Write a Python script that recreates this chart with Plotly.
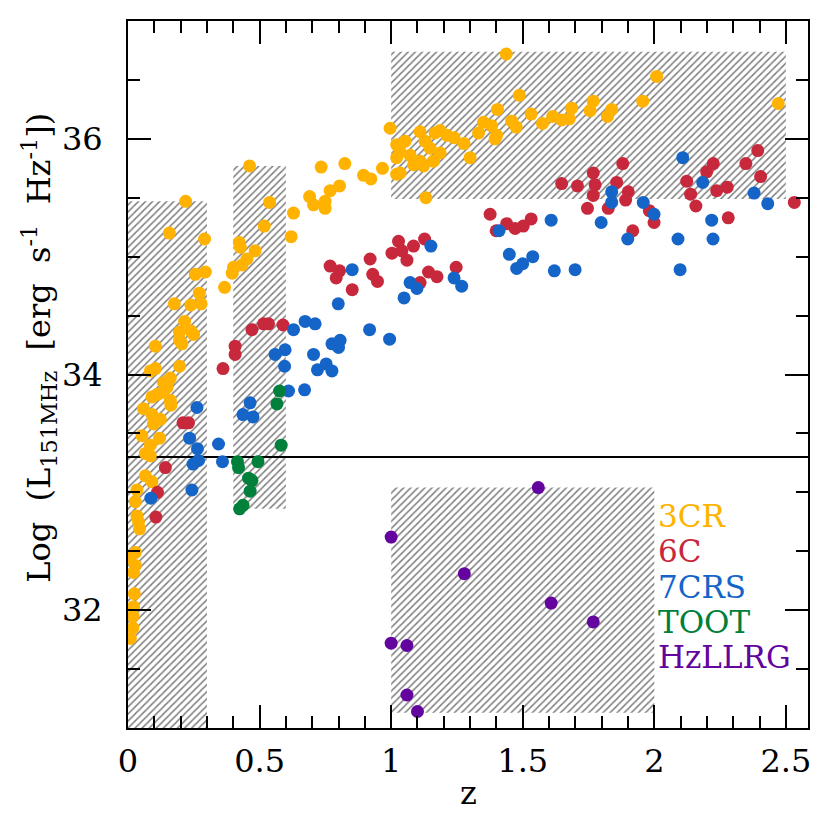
import plotly.graph_objects as go

# 3CR
z_3cr = [0.462, 0.219, 0.157, 0.291, 0.538, 0.518, 0.423, 0.427, 0.483, 0.452, 0.433, 0.401, 0.396,
         0.367, 0.256, 0.294, 0.271, 0.176, 0.239, 0.278, 0.215, 0.196, 0.239, 0.249, 0.196, 0.205,
         0.104, 0.196, 0.085, 0.104, 0.154, 0.135, 0.161, 0.148, 0.110, 0.091, 0.161, 0.734, 0.824,
         0.895, 0.923, 0.967, 1.021, 1.021, 0.629, 0.620, 0.690, 0.705, 0.749, 0.749, 0.768, 0.804,
         0.135, 0.163, 0.059, 0.091, 0.123, 0.097, 0.053, 0.120, 0.085, 0.066, 0.085, 0.066, 0.091,
         0.034, 0.028, 0.034, 0.040, 0.044, 0.028, 0.002, 0.028, 0.021, 0.024, 0.021, 0.019, 0.019,
         0.009, 1.437, 1.487, 1.404, 0.996, 1.532, 1.575, 1.614, 1.686, 1.677, 1.648, 1.768, 1.756,
         1.351, 1.332, 1.382, 1.401, 1.395, 1.458, 1.475, 1.300, 1.186, 1.167, 1.212, 1.239, 1.277,
         1.110, 1.129, 1.148, 1.186, 1.161, 1.021, 1.053, 1.034, 1.072, 1.085, 1.110, 1.123, 1.034,
         1.132, 2.009, 1.838, 1.822, 1.956, 2.471]
L_3cr = [35.77, 35.47, 35.20, 35.15, 35.46, 35.26, 35.12, 35.08, 35.05, 34.98, 34.93, 34.91, 34.86,
         34.74, 34.85, 34.87, 34.69, 34.60, 34.59, 34.60, 34.45, 34.36, 34.37, 34.34, 34.29, 34.26,
         34.24, 34.07, 34.03, 34.05, 33.95, 33.93, 33.97, 33.89, 33.83, 33.81, 33.78, 35.76, 35.79,
         35.69, 35.66, 35.75, 35.84, 35.70, 35.37, 35.17, 35.51, 35.44, 35.47, 35.41, 35.56, 35.60,
         33.85, 33.74, 33.71, 33.66, 33.62, 33.58, 33.48, 33.46, 33.40, 33.33, 33.31, 33.14, 33.09,
         33.02, 32.92, 32.80, 32.75, 32.69, 32.49, 32.44, 32.38, 32.32, 32.14, 32.03, 31.95, 31.85,
         31.76, 36.72, 36.37, 36.25, 36.09, 36.21, 36.13, 36.19, 36.26, 36.17, 36.16, 36.32, 36.24,
         36.14, 36.05, 36.11, 36.03, 36.00, 36.15, 36.10, 35.84, 36.07, 36.05, 36.03, 36.01, 35.96,
         36.06, 35.98, 35.92, 35.88, 35.81, 35.95, 35.98, 35.89, 35.86, 35.78, 35.81, 35.77, 35.71,
         35.50, 36.53, 36.25, 36.19, 36.32, 36.30]

# 6C
z_6c = [0.471, 0.515, 0.534, 0.407, 0.407, 0.361, 0.768, 0.804, 0.791, 0.852, 0.920, 0.930, 0.948,
        1.003, 0.589, 0.209, 0.230, 0.142, 0.112, 0.106, 1.648, 1.708, 1.768, 1.775, 1.768, 1.746,
        1.376, 1.399, 1.439, 1.471, 1.502, 1.532, 1.028, 1.085, 1.127, 1.041, 1.060, 1.142, 1.174,
        1.247, 1.110, 1.880, 1.857, 1.901, 1.891, 1.825, 1.981, 1.999, 1.918, 2.123, 2.199, 2.224,
        2.138, 2.158, 2.237, 2.277, 2.281, 2.348, 2.393, 2.404, 2.532]
L_6c = [34.38, 34.43, 34.43, 34.24, 34.17, 34.05, 34.92, 34.88, 34.82, 34.72, 34.98, 34.85, 34.79,
        35.03, 34.42, 33.59, 33.59, 33.21, 33.00, 32.79, 35.62, 35.60, 35.71, 35.61, 35.52, 35.41,
        35.36, 35.22, 35.28, 35.24, 35.26, 35.32, 35.13, 35.09, 35.15, 35.05, 34.97, 34.87, 34.83,
        34.91, 34.78, 35.79, 35.63, 35.55, 35.48, 35.41, 35.39, 35.29, 35.22, 35.64, 35.72, 35.79,
        35.53, 35.43, 35.56, 35.59, 35.33, 35.79, 35.90, 35.68, 35.46]

# 7CRS
z_7crs = [0.852, 0.799, 0.629, 0.673, 0.711, 0.918, 0.994, 0.775, 0.806, 0.800, 0.597, 0.559, 0.705,
          0.595, 0.753, 0.720, 0.775, 0.610, 0.671, 0.262, 0.464, 0.437, 0.475, 0.234, 0.264, 0.344,
          0.268, 0.247, 0.359, 0.243, 0.087, 1.151, 1.410, 1.608, 1.449, 1.538, 1.500, 1.477, 1.620,
          1.699, 1.072, 1.098, 1.049, 1.239, 1.268, 2.108, 2.184, 1.838, 1.838, 1.958, 1.999, 1.798,
          1.899, 2.218, 2.223, 2.090, 2.098, 2.379, 2.431]
L_7crs = [34.89, 34.60, 34.38, 34.45, 34.43, 34.38, 34.30, 34.26, 34.29, 34.23, 34.21, 34.17, 34.17,
          34.07, 34.09, 34.04, 34.03, 33.86, 33.87, 33.72, 33.76, 33.66, 33.64, 33.46, 33.37, 33.41,
          33.27, 33.24, 33.26, 33.02, 32.95, 35.09, 35.22, 35.31, 35.02, 35.00, 34.94, 34.90, 34.88,
          34.89, 34.78, 34.73, 34.65, 34.82, 34.75, 35.84, 35.63, 35.55, 35.46, 35.46, 35.36, 35.29,
          35.15, 35.31, 35.15, 35.15, 34.89, 35.54, 35.45]

# TOOT
z_toot = [0.576, 0.566, 0.582, 0.416, 0.420, 0.494, 0.458, 0.471, 0.464, 0.437, 0.424]
L_toot = [33.86, 33.75, 33.40, 33.26, 33.21, 33.26, 33.12, 33.10, 33.01, 32.89, 32.86]

# HzLLRG
z_hz = [1.559, 1.000, 1.278, 1.608, 1.768, 1.000, 1.060, 1.060, 1.100]
L_hz = [33.04, 32.62, 32.31, 32.06, 31.90, 31.72, 31.70, 31.28, 31.14]

# hatched selection boxes: z_min, z_max, L_min, L_max
boxes = [(0.0, 0.30, 31.0, 35.47),
         (0.40, 0.60, 32.86, 35.77),
         (1.0, 2.5, 35.49, 36.74),
         (1.0, 2.0, 31.13, 33.04)]
L_cut = 33.30

names = ["3CR", "6C", "7CRS", "TOOT", "HzLLRG"]
colors = ["#FFB300", "#C8283C", "#1565C8", "#00803A", "#64049E"]
series = [(z_3cr, L_3cr), (z_6c, L_6c), (z_7crs, L_7crs), (z_toot, L_toot), (z_hz, L_hz)]

font = "DejaVu Serif"
fig = go.Figure()

for x0, x1, y0, y1 in boxes:
    fig.add_trace(go.Scatter(x=[x0, x1, x1, x0, x0], y=[y0, y0, y1, y1, y0],
                             mode="lines", fill="toself", line=dict(width=0),
                             fillcolor="white",
                             fillpattern=dict(shape="/", size=5, solidity=0.3,
                                              fgcolor="#000000", bgcolor="white"),
                             hoverinfo="skip", showlegend=False))

fig.add_trace(go.Scatter(x=[0, 2.584], y=[L_cut, L_cut], mode="lines",
                         line=dict(color="black", width=2), showlegend=False))

for (zz, ll), name, c in zip(series, names, colors):
    fig.add_trace(go.Scatter(x=zz, y=ll, mode="markers", name=name,
                             marker=dict(color=c, size=13, line=dict(width=0)),
                             showlegend=False))

# coloured labels in place of a legend
for i, (name, c) in enumerate(zip(names, colors)):
    fig.add_annotation(x=2.005, y=32.80 - 0.30 * i, xref="x", yref="y", text=name,
                       showarrow=False, xanchor="left", yanchor="middle",
                       font=dict(family=font, size=31, color=c))

fig.add_annotation(x=0.5, y=-0.092, xref="paper", yref="paper", text="z", showarrow=False,
                   xanchor="center", yanchor="middle", font=dict(family=font, size=32, color="black"))
fig.add_annotation(x=-0.132, y=0.538, xref="paper", yref="paper", textangle=-90,
                   text="Log&nbsp;&nbsp;(L<sub>151MHz</sub>&nbsp;&nbsp;[erg&nbsp;&nbsp;s<sup>-1</sup>&nbsp;&nbsp;Hz<sup>-1</sup>])",
                   showarrow=False, xanchor="center", yanchor="middle",
                   font=dict(family=font, size=32, color="black"))

axis_common = dict(showline=True, linecolor="black", linewidth=2, mirror="ticks",
                   ticks="inside", ticklen=23, tickwidth=2, tickcolor="black",
                   showgrid=False, zeroline=False,
                   tickfont=dict(family=font, size=32, color="black"))

fig.update_xaxes(range=[0, 2.584], tick0=0, dtick=0.5, ticklabelstandoff=4,
                 minor=dict(dtick=0.1, ticklen=12, tickwidth=2, tickcolor="black", ticks="inside"),
                 **axis_common)
fig.update_yaxes(range=[31, 37], tick0=0, dtick=2, ticklabelstandoff=17,
                 minor=dict(dtick=0.5, ticklen=12, tickwidth=2, tickcolor="black", ticks="inside"),
                 **axis_common)

# the page body adds an 8 px offset, so margins are trimmed to keep the frame in place
fig.update_layout(width=830, height=830, plot_bgcolor="white", paper_bgcolor="white",
                  margin=dict(l=120, r=30, t=11, b=110), showlegend=False)

fig.write_html("out.html")
